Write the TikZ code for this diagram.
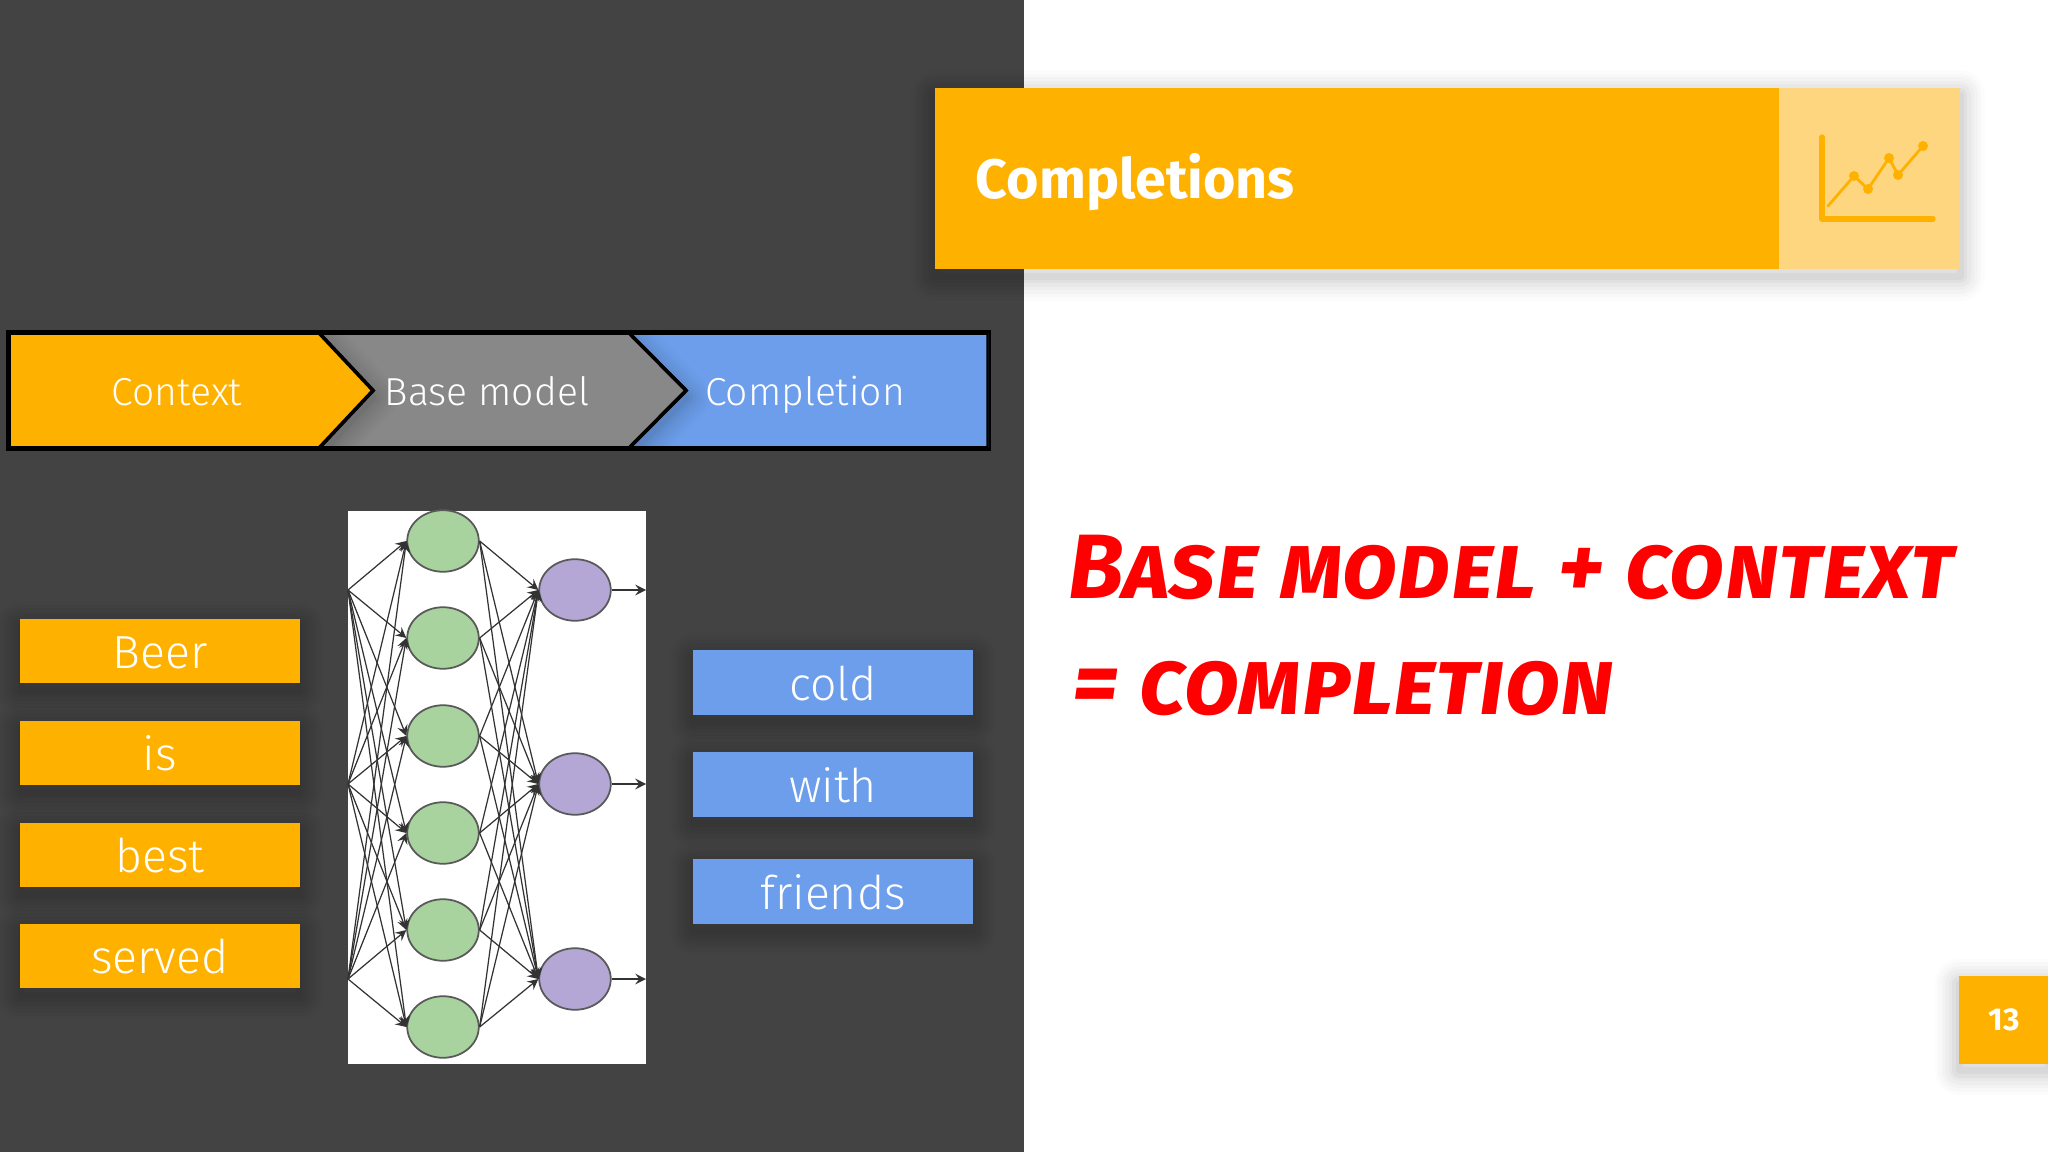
\documentclass[tikz,border=0pt]{standalone}
\usepackage{fontspec}
\setmainfont{Fira Sans}
\newfontfamily\lightfont{Fira Sans Light}
\newfontfamily\markerfont[Letters=SmallCaps]{Fira Sans}
\usetikzlibrary{shapes.geometric}
\definecolor{panelgray}{HTML}{434343}
\definecolor{sunorange}{HTML}{FFB100}
\definecolor{paleorange}{HTML}{FFD680}
\definecolor{skyblue}{HTML}{6D9EEB}
\definecolor{midgray}{HTML}{888888}
\definecolor{leafgreen}{HTML}{A9D39E}
\definecolor{lilac}{HTML}{B4A7D6}
\tikzset{
  softshadow/.style={
    preaction={draw=black,draw opacity=.012,line join=round,line width=14pt,transform canvas={yshift=-2pt}},
    preaction={draw=black,draw opacity=.015,line join=round,line width=12pt,transform canvas={yshift=-2pt}},
    preaction={draw=black,draw opacity=.018,line join=round,line width=10pt,transform canvas={yshift=-2pt}},
    preaction={draw=black,draw opacity=.02,line join=round,line width=8pt,transform canvas={yshift=-2pt}},
    preaction={draw=black,draw opacity=.025,line join=round,line width=6pt,transform canvas={yshift=-2pt}},
    preaction={draw=black,draw opacity=.03,line join=round,line width=4pt,transform canvas={yshift=-2pt}},
    preaction={draw=black,draw opacity=.035,line join=round,line width=2pt,transform canvas={yshift=-2pt}}},
  wordbox/.style={rectangle,fill=#1,softshadow,minimum width=2.79cm,minimum height=.645cm,
    inner sep=0pt,text=white,text height=.37cm,text depth=.02cm,font=\lightfont\fontsize{13.2}{14}\selectfont},
  chevtext/.style={anchor=base,text=white,inner sep=0pt,font=\lightfont\fontsize{11.1}{13}\selectfont},
  hiddennode/.style={ellipse,draw=black!65,line width=.5pt,fill=leafgreen,inner sep=0pt,
    minimum width=.715cm,minimum height=.615cm},
  outnode/.style={hiddennode,fill=lilac},
  netarrow/.style={line width=.35pt,black!80,-stealth},
  handtext/.style={text=red,inner sep=0pt,anchor=base west,font=\markerfont\bfseries\itshape\fontsize{26}{30}\selectfont}
}
\begin{document}
\begin{tikzpicture}[x=.01cm,y=-.01cm]
  \useasboundingbox (0,0) rectangle (2048,1152);
  \fill[white] (0,0) rectangle (2048,1152);
  \fill[panelgray] (0,0) rectangle (1024,1152);

  % title band
  \fill[sunorange,softshadow] (935,88) rectangle (1960,269);
  \fill[paleorange] (1779,88) rectangle (1960,269);
  \node[anchor=base west,inner sep=0pt,text=white,font=\bfseries\fontsize{15.8}{20}\selectfont] (title) at (975,199) {Completions};
  \draw[sunorange,line width=1.5pt,line cap=round,line join=round] (1822,137)--(1822,219)--(1933,219);
  \draw[sunorange,line width=.8pt,line cap=round] (1828,206)--(1854,176)--(1868,189)--(1889,158)--(1898,175)--(1923,146);
  \foreach \px/\py in {1854/176,1868/189,1889/158,1898/175,1923/146}
    \fill[sunorange] (\px,\py) circle [radius=5];

  % chevron bar
  \fill[black] (6,330) rectangle (991,451);
  \begin{scope}
    \clip (9,333) rectangle (988,448);
    \draw[line width=1pt,black,fill=skyblue] (629,333)--(988,333)--(988,448)--(629,448)--(686,390.5)--cycle;
    \draw[line width=1pt,black,fill=midgray,softshadow] (319,333)--(629,333)--(686,390.5)--(629,448)--(319,448)--(373,390.5)--cycle;
    \draw[line width=1pt,black,fill=sunorange,softshadow] (9,333)--(319,333)--(373,390.5)--(319,448)--(9,448)--cycle;
  \end{scope}
  \node[chevtext] (context) at (177,406) {Context};
  \node[chevtext] (basemodel) at (487,406) {Base model};
  \node[chevtext] (completion) at (805,406) {Completion};

  % input words
  \node[wordbox=sunorange] (beer) at (160,651) {Beer};
  \node[wordbox=sunorange] (is) at (160,753) {is};
  \node[wordbox=sunorange] (best) at (160,855) {best};
  \node[wordbox=sunorange] (served) at (160,956) {served};

  % output words
  \node[wordbox=skyblue] (cold) at (833,682.5) {cold};
  \node[wordbox=skyblue] (with) at (833,784.5) {with};
  \node[wordbox=skyblue] (friends) at (833,891.5) {friends};

  % network
  \fill[white] (348,511) rectangle (646,1064);
  \coordinate (in1) at (348,590);
  \coordinate (in2) at (348,784);
  \coordinate (in3) at (348,979);
  \foreach \n/\ypos in {1/541,2/638,3/736,4/833,5/930,6/1027}
    \node[hiddennode] (g\n) at (443,\ypos) {};
  \foreach \n/\ypos in {1/590,2/784,3/979}{
    \node[outnode] (p\n) at (575,\ypos) {};
    \coordinate (out\n) at (646,\ypos);
    \draw[netarrow] (p\n) -- (out\n);
  }
  \foreach \i in {1,2,3}
    \foreach \n in {1,...,6}{
      \draw[netarrow] (in\i) -- (g\n.west);
      \draw[netarrow] (g\n.east) -- (p\i.west);
    }

  % handwriting
  \node[handtext] (line1) at (1068,599) {Base model + context};
  \node[handtext] (line2) at (1072,714) {= completion};

  % page number
  \node[rectangle,fill=sunorange,softshadow,minimum width=.89cm,minimum height=.87cm,inner sep=0pt,
    text=white,font=\bfseries\fontsize{9}{10}\selectfont] (pagenum) at (2004,1020) {13};
\end{tikzpicture}
\end{document}
